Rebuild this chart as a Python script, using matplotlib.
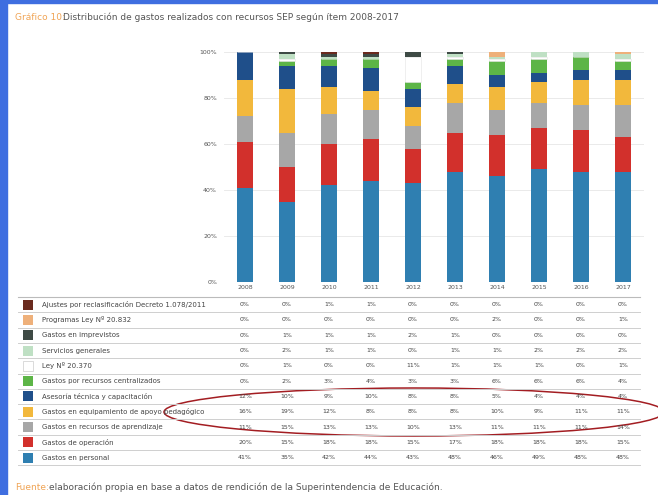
import matplotlib
matplotlib.use("Agg")
from matplotlib import pyplot as plt
from matplotlib.patches import Ellipse, Rectangle
import numpy as np

years = ["2008", "2009", "2010", "2011", "2012", "2013", "2014", "2015", "2016", "2017"]

# items, bottom of the stack first
items = [
    "Gastos en personal",
    "Gastos de operación",
    "Gastos en recursos de aprendizaje",
    "Gastos en equipamiento de apoyo pedagógico",
    "Asesoría técnica y capacitación",
    "Gastos por recursos centralizados",
    "Ley Nº 20.370",
    "Servicios generales",
    "Gastos en imprevistos",
    "Programas Ley Nº 20.832",
    "Ajustes por reclasificación Decreto 1.078/2011",
]

personal      = [41, 35, 42, 44, 43, 48, 46, 49, 48, 48]
operacion     = [20, 15, 18, 18, 15, 17, 18, 18, 18, 15]
recursos      = [11, 15, 13, 13, 10, 13, 11, 11, 11, 14]
equipamiento  = [16, 19, 12,  8,  8,  8, 10,  9, 11, 11]
asesoria      = [12, 10,  9, 10,  8,  8,  5,  4,  4,  4]
centralizados = [ 0,  2,  3,  4,  3,  3,  6,  6,  6,  4]
ley           = [ 0,  1,  0,  0, 11,  1,  1,  1,  0,  1]
servicios     = [ 0,  2,  1,  1,  0,  1,  1,  2,  2,  2]
imprevistos   = [ 0,  1,  1,  1,  2,  1,  0,  0,  0,  0]
programas     = [ 0,  0,  0,  0,  0,  0,  2,  0,  0,  1]
ajustes       = [ 0,  0,  1,  1,  0,  0,  0,  0,  0,  0]

series = [personal, operacion, recursos, equipamiento, asesoria, centralizados,
          ley, servicios, imprevistos, programas, ajustes]
colors = ["#2f7fb1", "#d2302c", "#a7a7a7", "#f2b83c", "#1f4f8a", "#5db547",
          "#ffffff", "#bfe0c4", "#3e4a45", "#eeb07a", "#6a2a1e"]

W, H = 658, 495
fig = plt.figure(figsize=(W / 100, H / 100), dpi=100)
fig.patch.set_facecolor("white")

# stacked bars
ax = fig.add_axes([224 / W, (H - 282) / H, 420 / W, 230 / H])
x = np.arange(len(years))
bottom = np.zeros(len(years))
for vals, c in zip(series, colors):
    ec = "#e4e4e4" if c == "#ffffff" else "none"
    ax.bar(x, vals, width=0.37, bottom=bottom, color=c, edgecolor=ec, linewidth=0.4, zorder=3)
    bottom += np.array(vals)
ax.set_xlim(-0.5, 9.5)
ax.set_ylim(0, 100)
ax.set_yticks(range(0, 101, 20))
ax.set_yticklabels([f"{v}%" for v in range(0, 101, 20)], fontsize=4.5, color="#555555")
ax.tick_params(axis="y", length=0, pad=5)
ax.set_xticks(x)
ax.set_xticklabels(years, fontsize=4.5, color="#555555")
ax.tick_params(axis="x", length=0, pad=2)
ax.grid(axis="y", color="#e6e6e6", linewidth=0.6, zorder=0)
for s in ax.spines.values():
    s.set_visible(False)
ax.axhline(0, color="#cccccc", linewidth=0.6, zorder=4)

# overlay in pixel coordinates for title, table and notes
ov = fig.add_axes([0, 0, 1, 1])
ov.set_xlim(0, W)
ov.set_ylim(H, 0)
ov.axis("off")

ov.add_patch(Rectangle((0, 0), 7, H, color="#3f6ee0", zorder=5))
ov.add_patch(Rectangle((0, 0), W, 3, color="#3f6ee0", zorder=5))

ov.text(15, 17, "Gráfico 10:", fontsize=6.5, color="#f0a455", va="center")
ov.text(63, 17, "Distribución de gastos realizados con recursos SEP según ítem 2008-2017",
        fontsize=6.5, color="#555555", va="center")

# data table
row_h = 15.3
y0 = 297
centers = 245 + 42 * x
ov.plot([18, 640], [y0, y0], color="#bbbbbb", lw=0.8)
for i, k in enumerate(range(len(items) - 1, -1, -1)):
    yc = y0 + row_h * (i + 0.5)
    ov.plot([18, 640], [y0 + row_h * (i + 1)] * 2, color="#cfcfcf", lw=0.7)
    ec = "#cccccc" if colors[k] == "#ffffff" else "none"
    ov.add_patch(Rectangle((23, yc - 5), 10, 10, facecolor=colors[k], edgecolor=ec, lw=0.5))
    ov.text(42, yc, items[k], fontsize=5.0, color="#444444", va="center")
    for cx, v in zip(centers, series[k]):
        ov.text(cx, yc, f"{v}%", fontsize=4.5, color="#444444", va="center", ha="center")

ov.add_patch(Ellipse((414, 412), 500, 48, fill=False, edgecolor="#a31d22", lw=1.1, clip_on=False))

ov.text(15, 487, "Fuente:", fontsize=6.5, color="#f0a455", va="center")
ov.text(49, 487, "elaboración propia en base a datos de rendición de la Superintendencia de Educación.",
        fontsize=6.5, color="#555555", va="center")

fig.savefig("out.png", dpi=100)
